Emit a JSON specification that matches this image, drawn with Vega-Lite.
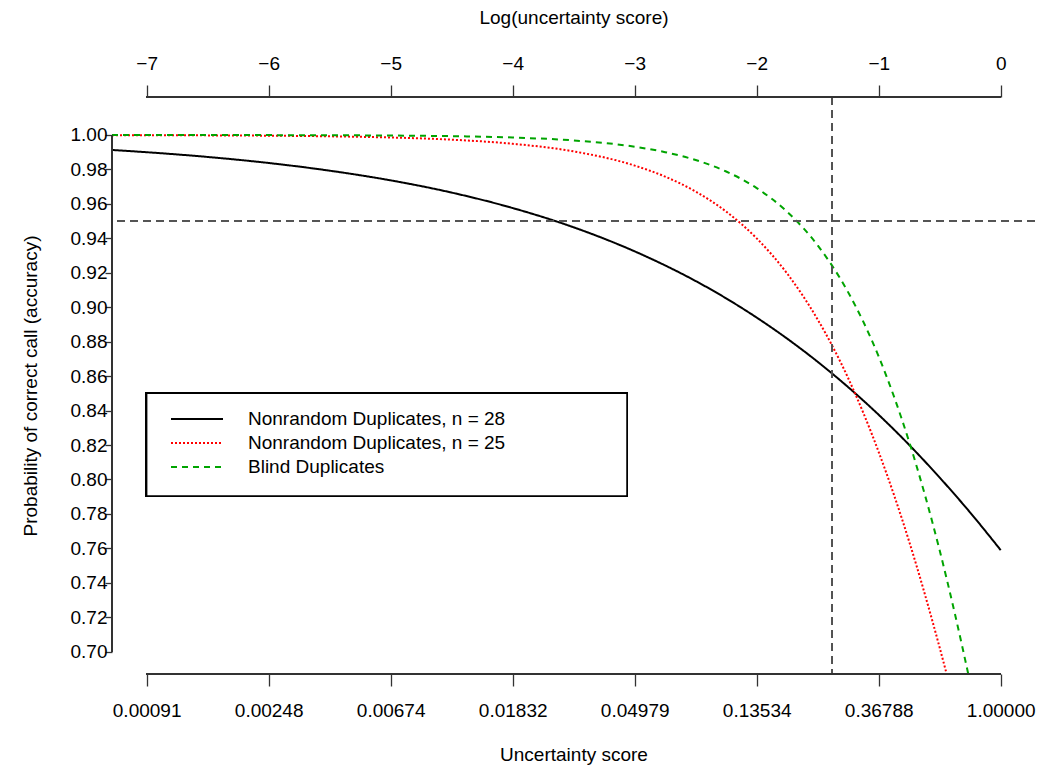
{
  "$schema": "https://vega.github.io/schema/vega-lite/v6.json",
  "autosize": "none",
  "width": 923,
  "height": 577,
  "padding": {"left": 112, "top": 97, "right": 15, "bottom": 99},
  "background": "white",
  "config": {
    "view": {"stroke": null},
    "font": "Liberation Sans",
    "axis": {
      "grid": false,
      "domain": false,
      "labelOverlap": false,
      "labelFont": "Liberation Sans",
      "labelFontSize": 19,
      "labelColor": "black",
      "titleFont": "Liberation Sans",
      "titleFontSize": 19,
      "titleFontWeight": "normal",
      "titleColor": "black",
      "tickColor": "#333",
      "tickWidth": 1.3
    }
  },
  "data": {
    "values": [
      {"series": "Nonrandom Duplicates, n = 28", "logu": -7.284, "p": 0.99129},
      {"series": "Nonrandom Duplicates, n = 28", "logu": -7, "p": 0.99},
      {"series": "Nonrandom Duplicates, n = 28", "logu": -6.5, "p": 0.98725},
      {"series": "Nonrandom Duplicates, n = 28", "logu": -6, "p": 0.98375},
      {"series": "Nonrandom Duplicates, n = 28", "logu": -5.5, "p": 0.97928},
      {"series": "Nonrandom Duplicates, n = 28", "logu": -5, "p": 0.97366},
      {"series": "Nonrandom Duplicates, n = 28", "logu": -4.5, "p": 0.96656},
      {"series": "Nonrandom Duplicates, n = 28", "logu": -4, "p": 0.95759},
      {"series": "Nonrandom Duplicates, n = 28", "logu": -3.5, "p": 0.9464},
      {"series": "Nonrandom Duplicates, n = 28", "logu": -3, "p": 0.93244},
      {"series": "Nonrandom Duplicates, n = 28", "logu": -2.75, "p": 0.92426},
      {"series": "Nonrandom Duplicates, n = 28", "logu": -2.5, "p": 0.91521},
      {"series": "Nonrandom Duplicates, n = 28", "logu": -2.25, "p": 0.90513},
      {"series": "Nonrandom Duplicates, n = 28", "logu": -2, "p": 0.89399},
      {"series": "Nonrandom Duplicates, n = 28", "logu": -1.75, "p": 0.88174},
      {"series": "Nonrandom Duplicates, n = 28", "logu": -1.5, "p": 0.8683},
      {"series": "Nonrandom Duplicates, n = 28", "logu": -1.25, "p": 0.85358},
      {"series": "Nonrandom Duplicates, n = 28", "logu": -1, "p": 0.83754},
      {"series": "Nonrandom Duplicates, n = 28", "logu": -0.75, "p": 0.82004},
      {"series": "Nonrandom Duplicates, n = 28", "logu": -0.5, "p": 0.80107},
      {"series": "Nonrandom Duplicates, n = 28", "logu": -0.25, "p": 0.78077},
      {"series": "Nonrandom Duplicates, n = 28", "logu": 0, "p": 0.75896},
      {"series": "Nonrandom Duplicates, n = 25", "logu": -7.284, "p": 0.99992},
      {"series": "Nonrandom Duplicates, n = 25", "logu": -7, "p": 0.99988},
      {"series": "Nonrandom Duplicates, n = 25", "logu": -6.5, "p": 0.99978},
      {"series": "Nonrandom Duplicates, n = 25", "logu": -6, "p": 0.99959},
      {"series": "Nonrandom Duplicates, n = 25", "logu": -5.5, "p": 0.99923},
      {"series": "Nonrandom Duplicates, n = 25", "logu": -5, "p": 0.99855},
      {"series": "Nonrandom Duplicates, n = 25", "logu": -4.5, "p": 0.99728},
      {"series": "Nonrandom Duplicates, n = 25", "logu": -4, "p": 0.9949},
      {"series": "Nonrandom Duplicates, n = 25", "logu": -3.5, "p": 0.99048},
      {"series": "Nonrandom Duplicates, n = 25", "logu": -3, "p": 0.98224},
      {"series": "Nonrandom Duplicates, n = 25", "logu": -2.75, "p": 0.97582},
      {"series": "Nonrandom Duplicates, n = 25", "logu": -2.5, "p": 0.96714},
      {"series": "Nonrandom Duplicates, n = 25", "logu": -2.25, "p": 0.95551},
      {"series": "Nonrandom Duplicates, n = 25", "logu": -2, "p": 0.93997},
      {"series": "Nonrandom Duplicates, n = 25", "logu": -1.75, "p": 0.91951},
      {"series": "Nonrandom Duplicates, n = 25", "logu": -1.5, "p": 0.89283},
      {"series": "Nonrandom Duplicates, n = 25", "logu": -1.25, "p": 0.85878},
      {"series": "Nonrandom Duplicates, n = 25", "logu": -1, "p": 0.81592},
      {"series": "Nonrandom Duplicates, n = 25", "logu": -0.75, "p": 0.76388},
      {"series": "Nonrandom Duplicates, n = 25", "logu": -0.5, "p": 0.70225},
      {"series": "Nonrandom Duplicates, n = 25", "logu": -0.25, "p": 0.63252},
      {"series": "Nonrandom Duplicates, n = 25", "logu": 0, "p": 0.55651},
      {"series": "Blind Duplicates", "logu": -7.284, "p": 0.99999},
      {"series": "Blind Duplicates", "logu": -7, "p": 0.99999},
      {"series": "Blind Duplicates", "logu": -6.5, "p": 0.99997},
      {"series": "Blind Duplicates", "logu": -6, "p": 0.99993},
      {"series": "Blind Duplicates", "logu": -5.5, "p": 0.99985},
      {"series": "Blind Duplicates", "logu": -5, "p": 0.99968},
      {"series": "Blind Duplicates", "logu": -4.5, "p": 0.99932},
      {"series": "Blind Duplicates", "logu": -4, "p": 0.99853},
      {"series": "Blind Duplicates", "logu": -3.5, "p": 0.99683},
      {"series": "Blind Duplicates", "logu": -3, "p": 0.9932},
      {"series": "Blind Duplicates", "logu": -2.75, "p": 0.99004},
      {"series": "Blind Duplicates", "logu": -2.5, "p": 0.98546},
      {"series": "Blind Duplicates", "logu": -2.25, "p": 0.97879},
      {"series": "Blind Duplicates", "logu": -2, "p": 0.96917},
      {"series": "Blind Duplicates", "logu": -1.75, "p": 0.95539},
      {"series": "Blind Duplicates", "logu": -1.5, "p": 0.9359},
      {"series": "Blind Duplicates", "logu": -1.25, "p": 0.90863},
      {"series": "Blind Duplicates", "logu": -1, "p": 0.87136},
      {"series": "Blind Duplicates", "logu": -0.75, "p": 0.82176},
      {"series": "Blind Duplicates", "logu": -0.5, "p": 0.75873},
      {"series": "Blind Duplicates", "logu": -0.25, "p": 0.68176},
      {"series": "Blind Duplicates", "logu": 0, "p": 0.5934}
    ]
  },
  "resolve": {"axis": {"x": "independent"}},
  "layer": [
    {
      "mark": {"type": "line", "clip": true, "interpolate": "monotone", "strokeWidth": 2},
      "encoding": {
        "x": {
          "field": "logu",
          "type": "quantitative",
          "scale": {"domain": [-7.284, 0.281], "nice": false, "zero": false},
          "axis": {
            "orient": "bottom",
            "values": [-7, -6, -5, -4, -3, -2, -1, 0],
            "labelExpr": "format(exp(datum.value), '.5f')",
            "tickSize": 12,
            "labelPadding": 15,
            "title": "Uncertainty score",
            "titlePadding": 25
          }
        },
        "y": {
          "field": "p",
          "type": "quantitative",
          "scale": {"domain": [0.68705, 1.02206], "nice": false, "zero": false},
          "axis": {
            "values": [0.7, 0.72, 0.74, 0.76, 0.78, 0.8, 0.82, 0.84, 0.86, 0.88, 0.9, 0.92, 0.94, 0.96, 0.98, 1.0],
            "tickCount": 30,
            "format": ".2f",
            "tickSize": 7,
            "labelPadding": -2,
            "title": "Probability of correct call (accuracy)",
            "titlePadding": 30
          }
        },
        "color": {
          "field": "series",
          "type": "nominal",
          "scale": {
            "domain": ["Nonrandom Duplicates, n = 28", "Nonrandom Duplicates, n = 25", "Blind Duplicates"],
            "range": ["#000000", "#ff0000", "#00a400"]
          },
          "legend": {
            "orient": "none",
            "legendX": 58,
            "legendY": 311,
            "title": null,
            "symbolType": "stroke",
            "symbolSize": 2704,
            "symbolStrokeWidth": 1.8,
            "clipHeight": 22,
            "labelFont": "Liberation Sans",
            "labelFontSize": 19,
            "labelColor": "black",
            "labelOffset": 24,
            "labelLimit": 0,
            "rowPadding": 2,
            "padding": 0
          }
        },
        "strokeDash": {
          "field": "series",
          "type": "nominal",
          "scale": {
            "domain": ["Nonrandom Duplicates, n = 28", "Nonrandom Duplicates, n = 25", "Blind Duplicates"],
            "range": [[1, 0], [2, 2], [6, 5]]
          },
          "legend": {
            "orient": "none",
            "legendX": 58,
            "legendY": 311,
            "title": null,
            "symbolType": "stroke",
            "symbolSize": 2704,
            "symbolStrokeWidth": 1.8,
            "clipHeight": 22,
            "labelFont": "Liberation Sans",
            "labelFontSize": 19,
            "labelColor": "black",
            "labelOffset": 24,
            "labelLimit": 0,
            "rowPadding": 2,
            "padding": 0
          }
        }
      }
    },
    {
      "mark": {"type": "rule", "color": "#555", "strokeWidth": 1.2, "strokeDash": [8, 5]},
      "encoding": {
        "x": {
          "datum": -1.386,
          "type": "quantitative",
          "axis": {
            "orient": "top",
            "values": [-7, -6, -5, -4, -3, -2, -1, 0],
            "labelExpr": "datum.value < 0 ? '\u2212' + abs(datum.value) : '0'",
            "tickSize": 12,
            "labelPadding": 12,
            "title": "Log(uncertainty score)",
            "titlePadding": 27
          }
        }
      }
    },
    {
      "mark": {"type": "rule", "color": "#555", "strokeWidth": 1.2, "strokeDash": [8, 5]},
      "encoding": {
        "y": {"datum": 0.95, "type": "quantitative"}
      }
    },
    {
      "mark": {"type": "rule", "color": "#333", "strokeWidth": 1.3},
      "encoding": {
        "x": {"datum": -7, "type": "quantitative", "axis": null},
        "x2": {"datum": 0},
        "y": {"datum": 1.02206, "type": "quantitative"}
      }
    },
    {
      "mark": {"type": "rule", "color": "#333", "strokeWidth": 1.3},
      "encoding": {
        "x": {"datum": -7, "type": "quantitative", "axis": null},
        "x2": {"datum": 0},
        "y": {"datum": 0.68705, "type": "quantitative"}
      }
    },
    {
      "mark": {"type": "rule", "color": "#333", "strokeWidth": 1.3},
      "encoding": {
        "x": {"datum": -7.284, "type": "quantitative", "axis": null},
        "y": {"datum": 0.7, "type": "quantitative"},
        "y2": {"datum": 1.0}
      }
    },
    {
      "mark": {"type": "rect", "fill": "white", "stroke": "black", "strokeWidth": 1.5},
      "encoding": {
        "x": {"datum": -7, "type": "quantitative", "axis": null},
        "x2": {"datum": -3.063},
        "y": {"datum": 0.85, "type": "quantitative"},
        "y2": {"datum": 0.7904}
      }
    }
  ]
}
